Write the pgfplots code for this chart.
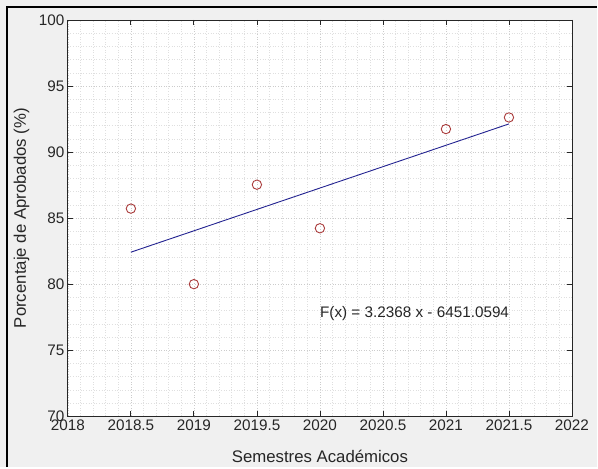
\documentclass[border=0pt]{standalone}
\usepackage{pgfplots}
\pgfplotsset{compat=1.18}
\usepackage{fontspec}
\setmainfont{Liberation Sans}
\definecolor{figbg}{RGB}{240,240,240}
\definecolor{axgray}{RGB}{38,38,38}
\definecolor{fitblue}{RGB}{35,35,145}
\definecolor{markred}{RGB}{170,60,60}
\begin{document}
\begin{tikzpicture}[x=1pt,y=1pt]
\fill[figbg] (0,0) rectangle (598,468);
\draw[black, line width=2.2pt] (7,0) -- (7,461) -- (598,461);
\begin{axis}[
  at={(68pt,51pt)}, anchor=south west,
  scale only axis, width=505pt, height=397pt,
  xmin=2018, xmax=2022, ymin=70, ymax=100,
  xtick={2018,2018.5,2019,2019.5,2020,2020.5,2021,2021.5,2022},
  ytick={70,75,80,85,90,95,100},
  minor x tick num=4, minor y tick num=4,
  grid=both,
  major grid style={dash pattern=on 0.8pt off 1.8pt, gray!40, line width=0.5pt},
  minor grid style={dash pattern=on 0.8pt off 1.8pt, gray!25, line width=0.5pt},
  tick align=inside, major tick length=5pt, minor tick length=0pt,
  axis line style={axgray, line width=0.8pt},
  tick style={axgray, line width=0.8pt},
  axis background/.style={fill=white},
  /pgf/number format/assume math mode=true,
  /pgf/number format/1000 sep={},
  ticklabel style={font=\fontsize{15.3}{18}\selectfont, text=axgray},
  label style={font=\fontsize{16.8}{20}\selectfont, text=axgray},
  xlabel={Semestres Académicos},
  ylabel={Porcentaje de Aprobados (\%)},
  xlabel style={at={(axis description cs:0.5,-0.1159)}, anchor=base},
  ylabel style={at={(axis description cs:-0.0832,0.5)}, anchor=base},
  clip=false,
]
\addplot[fitblue, line width=0.9pt] coordinates {(2018.5,82.42) (2021.5,92.13)};
\addplot[only marks, mark=o, mark size=4.7pt, mark options={draw=markred, line width=0.9pt}]
  coordinates {(2018.5,85.72) (2019,80.0) (2019.5,87.53) (2020,84.23) (2021,91.74) (2021.5,92.62)};
\node[anchor=west, inner sep=0pt, font=\fontsize{15.3}{18}\selectfont, text=axgray] at (axis cs:2020,77.8) {F(x) = 3.2368 x - 6451.0594};
\end{axis}
\end{tikzpicture}
\end{document}
